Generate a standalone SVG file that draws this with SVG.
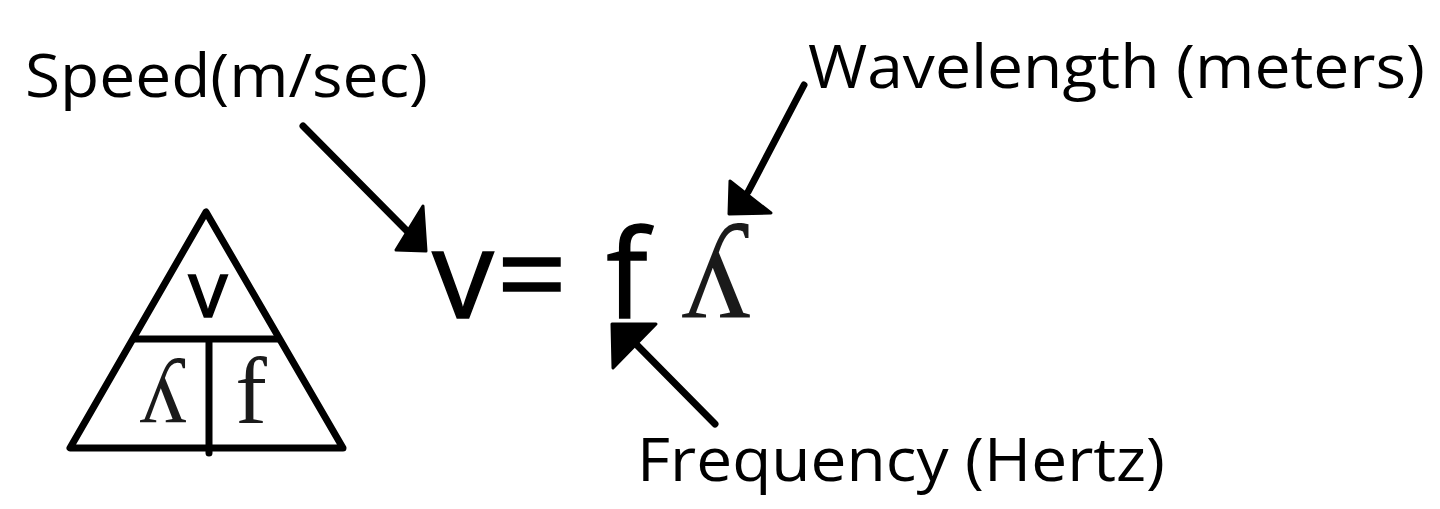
<svg xmlns="http://www.w3.org/2000/svg" width="1440" height="509" viewBox="0 0 1440 509">
<style>
.lbl{font-family:"Open Sans","Liberation Sans",sans-serif;font-size:60px;fill:#000}
.eq{font-family:"Open Sans","Liberation Sans",sans-serif;font-weight:400;fill:#000;stroke:#000;stroke-width:1.5}
.ser{font-family:"Liberation Serif","DejaVu Serif",serif;fill:#1a1a1a}
.ln{stroke:#000;stroke-width:7;fill:none;stroke-linecap:round;stroke-linejoin:round}
.head{fill:#000;stroke:#000;stroke-width:3;stroke-linejoin:round}
</style>
<rect width="1440" height="509" fill="#fff"/>
<g id="triangle">
<path class="ln" d="M206,212 L70,448 L343,448 Z" stroke-width="6"/>
<path class="ln" d="M135,339 L278,339 M209,339 L209,453" stroke-width="6"/>
<text class="eq" x="208" y="317" font-size="78" text-anchor="middle">v</text>
<text class="ser" x="163" y="423" font-size="95" text-anchor="middle">ʎ</text>
<text class="ser" x="251" y="423" font-size="95" text-anchor="middle">f</text>
</g>
<g id="equation">
<text class="eq" x="463" y="318" font-size="123" text-anchor="middle">v</text>
<text class="eq" x="532" y="318" font-size="123" text-anchor="middle">=</text>
<text class="eq" x="627" y="318" font-size="123" text-anchor="middle">f</text>
<text class="ser" x="716" y="318" font-size="140" text-anchor="middle">ʎ</text>
</g>
<g id="speed"><text class="lbl" x="25" y="97" textLength="403" lengthAdjust="spacingAndGlyphs">Speed(m/sec)</text></g>
<g id="wavelength"><text class="lbl" x="808" y="88" textLength="617" lengthAdjust="spacingAndGlyphs">Wavelength (meters)</text></g>
<g id="frequency"><text class="lbl" x="637" y="481" textLength="528" lengthAdjust="spacingAndGlyphs">Frequency (Hertz)</text></g>
<g id="connectors">
<line class="ln" x1="303" y1="126" x2="408" y2="232"/>
<polygon class="head" points="423,206 426,251 396,250"/>
<line class="ln" x1="804" y1="85" x2="748" y2="192"/>
<polygon class="head" points="730,181 729,214 771,213"/>
<line class="ln" x1="715" y1="424" x2="632" y2="340"/>
<polygon class="head" points="612,324 656,324 613,368"/>
</g>
</svg>
